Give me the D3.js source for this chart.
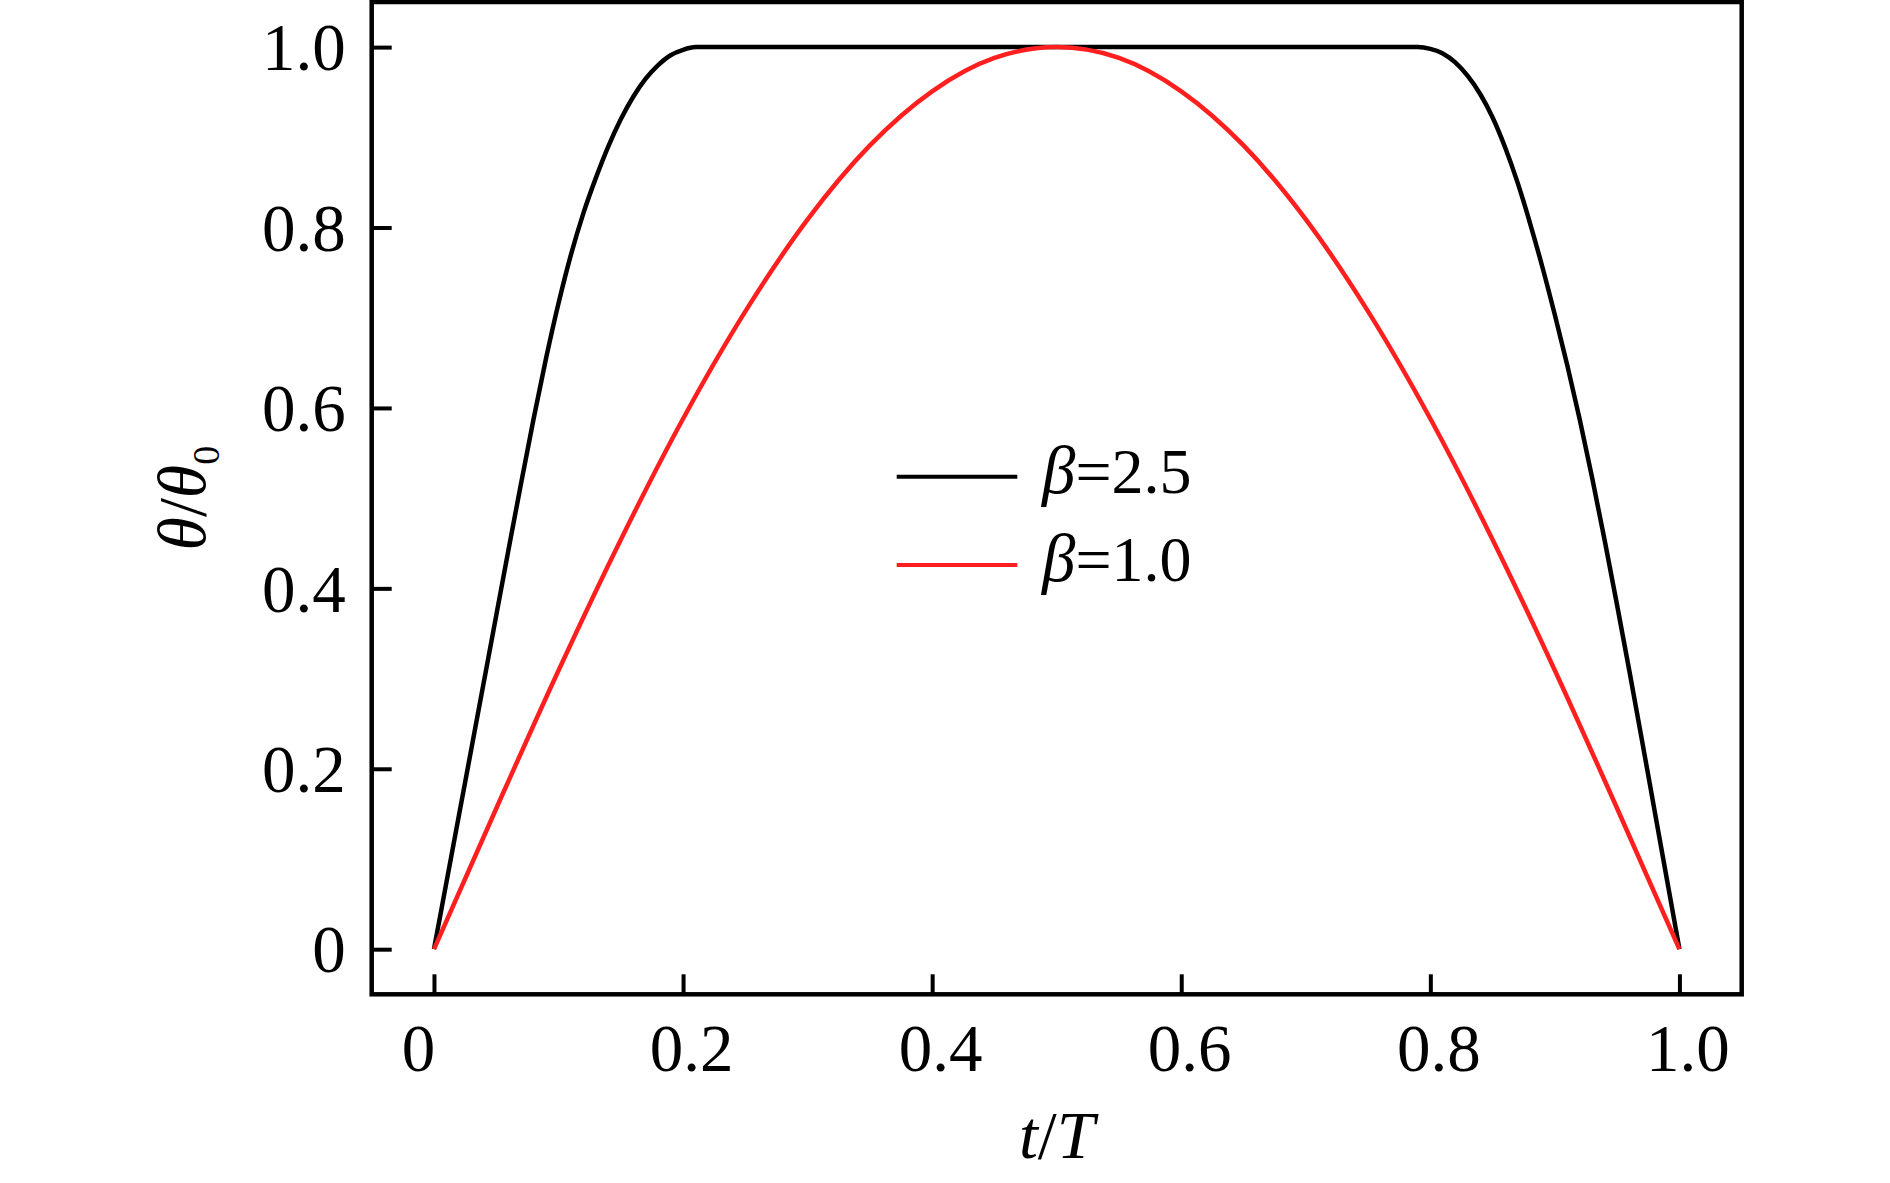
<!DOCTYPE html>
<html>
<head>
<meta charset="utf-8">
<script src="https://cdn.jsdelivr.net/npm/d3@7"></script>
<style>
  html, body { margin: 0; padding: 0; background: #fff; }
  svg { display: block; }
  text { font-family: "Liberation Serif", "Times New Roman", serif; fill: #000; }
</style>
</head>
<body>
<svg id="chart" width="1890" height="1183"></svg>
<script>
// ---- data ----
const xTicks = [0, 0.2, 0.4, 0.6, 0.8, 1.0];
const xTickLabels = ["0", "0.2", "0.4", "0.6", "0.8", "1.0"];
const yTicks = [0, 0.2, 0.4, 0.6, 0.8, 1.0];
const yTickLabels = ["0", "0.2", "0.4", "0.6", "0.8", "1.0"];

const seriesNames = ["β=2.5", "β=1.0"];
const seriesColors = ["#000000", "#ff1f1f"];

// beta = 2.5 (black)
const tBeta25 = [0, 0.01, 0.02, 0.03, 0.04, 0.05, 0.06, 0.07, 0.08, 0.09, 0.10,
  0.11, 0.12, 0.13, 0.14, 0.15, 0.16, 0.17, 0.18, 0.19, 0.20, 0.21,
  0.30, 0.40, 0.50, 0.60, 0.70,
  0.79, 0.80, 0.81, 0.82, 0.83, 0.84, 0.85, 0.86, 0.87, 0.88, 0.89, 0.90,
  0.91, 0.92, 0.93, 0.94, 0.95, 0.96, 0.97, 0.98, 0.99, 1.00];
const vBeta25 = [0, 0.074, 0.148, 0.222, 0.296, 0.370, 0.444, 0.517, 0.588, 0.655, 0.716,
  0.770, 0.816, 0.855, 0.890, 0.920, 0.945, 0.965, 0.980, 0.991, 0.997, 1.0,
  1.0, 1.0, 1.0, 1.0, 1.0,
  1.0, 0.998, 0.993, 0.983, 0.968, 0.948, 0.922, 0.889, 0.850, 0.805, 0.756, 0.703,
  0.647, 0.587, 0.522, 0.453, 0.381, 0.307, 0.231, 0.154, 0.077, 0];

// beta = 1.0 (red)
const tBeta10 = [0, 0.05, 0.10, 0.15, 0.20, 0.25, 0.30, 0.35, 0.40, 0.45, 0.50,
  0.55, 0.60, 0.65, 0.70, 0.75, 0.80, 0.85, 0.90, 0.95, 1.00];
const vBeta10 = [0, 0.156, 0.309, 0.454, 0.588, 0.707, 0.809, 0.891, 0.951, 0.988, 1.0,
  0.988, 0.951, 0.891, 0.809, 0.707, 0.588, 0.454, 0.309, 0.156, 0];

// ---- layout ----
const svg = d3.select("#chart");
const pLeft = 371.7, pRight = 1741.7, pTop = 2, pBottom = 994.3;

const x = d3.scaleLinear().domain([-0.05, 1.05]).range([pLeft, pRight]);
const y = d3.scaleLinear().domain([-0.05, 1.05]).range([pBottom, pTop]);

const series = [
  { name: seriesNames[0], color: seriesColors[0], pts: tBeta25.map((t, i) => [t, vBeta25[i]]) },
  { name: seriesNames[1], color: seriesColors[1], pts: tBeta10.map((t, i) => [t, vBeta10[i]]) }
];

// curves
const line = d3.line().x(d => x(d[0])).y(d => y(d[1])).curve(d3.curveMonotoneX);
svg.append("g").selectAll("path").data(series).join("path")
  .attr("d", d => line(d.pts))
  .attr("fill", "none")
  .attr("stroke", d => d.color)
  .attr("stroke-width", 4.5)
  .attr("stroke-linejoin", "round");

// x axis
const xAxis = d3.axisBottom(x).tickValues(xTicks)
  .tickFormat((d, i) => xTickLabels[i])
  .tickSize(-20).tickSizeOuter(0).tickPadding(29);
const gx = svg.append("g").attr("transform", `translate(0,${pBottom})`).call(xAxis);
gx.select(".domain").remove();
gx.selectAll(".tick line").attr("stroke", "#000").attr("stroke-width", 4);
gx.selectAll(".tick text")
  .attr("font-size", 67)
  .attr("dx", d => d === 0 ? -16 : 8)
  .style("font-family", "'Liberation Serif', 'Times New Roman', serif");

// y axis
const yAxis = d3.axisLeft(y).tickValues(yTicks)
  .tickFormat((d, i) => yTickLabels[i])
  .tickSize(-20).tickSizeOuter(0).tickPadding(26);
const gy = svg.append("g").attr("transform", `translate(${pLeft},0)`).call(yAxis);
gy.select(".domain").remove();
gy.selectAll(".tick line").attr("stroke", "#000").attr("stroke-width", 4);
gy.selectAll(".tick text")
  .attr("font-size", 67)
  .attr("dy", "0.34em")
  .style("font-family", "'Liberation Serif', 'Times New Roman', serif");

// frame
svg.append("rect")
  .attr("x", pLeft).attr("y", pTop)
  .attr("width", pRight - pLeft).attr("height", pBottom - pTop)
  .attr("fill", "none").attr("stroke", "#000").attr("stroke-width", 4.5);

// axis titles
const xt = svg.append("text")
  .attr("x", (pLeft + pRight) / 2).attr("y", 1158)
  .attr("text-anchor", "middle").attr("font-size", 68);
xt.append("tspan").attr("font-style", "italic").text("t");
xt.append("tspan").text("/");
xt.append("tspan").attr("font-style", "italic").text("T");

const yt = svg.append("text")
  .attr("transform", `translate(205,${(pTop + pBottom) / 2}) rotate(-90)`)
  .attr("text-anchor", "middle").attr("font-size", 68);
yt.append("tspan").attr("font-style", "italic").text("θ");
yt.append("tspan").text("/");
yt.append("tspan").attr("font-style", "italic").text("θ");
yt.append("tspan").attr("font-size", 38).attr("dy", 14).text("0");

// legend
const legendX0 = 896.7, legendX1 = 1017.3, legendTextX = 1042;
const legendRows = [476.7, 565];
const lg = svg.append("g");
series.forEach((s, i) => {
  lg.append("line")
    .attr("x1", legendX0).attr("x2", legendX1)
    .attr("y1", legendRows[i]).attr("y2", legendRows[i])
    .attr("stroke", s.color).attr("stroke-width", 4);
  const t = lg.append("text")
    .attr("x", legendTextX).attr("y", legendRows[i] + 16)
    .attr("font-size", 64);
  const parts = s.name.split("=");
  t.append("tspan").attr("font-style", "italic").attr("font-size", 67).text(parts[0]);
  t.append("tspan").text("=" + parts[1]);
});
</script>
</body>
</html>
